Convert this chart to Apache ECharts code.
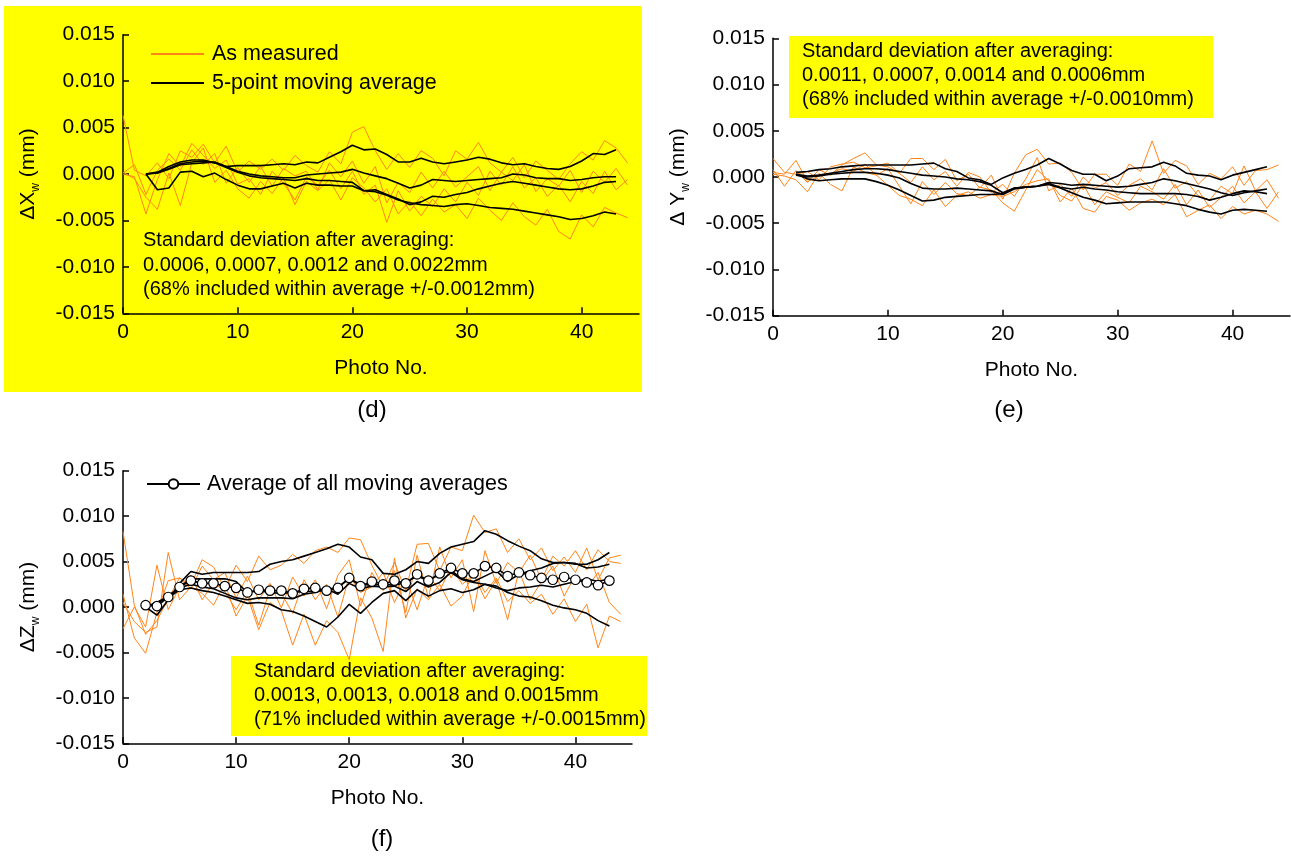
<!DOCTYPE html>
<html>
<head>
<meta charset="utf-8">
<script src="https://cdn.jsdelivr.net/npm/echarts@6/dist/echarts.min.js"></script>
<style>html,body{margin:0;padding:0;background:#fff;}#c{width:1291px;height:857px;}</style>
</head>
<body>
<div id="c"></div>
<script>
// ---------- tick values ----------
const xTicks = [0, 10, 20, 30, 40];
const measStart = 0;   // first photo no. of "as measured" series
const avgStart = 2;    // first photo no. of moving averages

// ---------- panel (d) ΔXw ----------
const dMeas1 = [0.0063,0.0004,-0.0002,0.0012,-0.0005,0.0025,0.0018,0.0032,0.0012,0.0030,
  0.0002,0.0014,0.0005,0.0016,0.0004,0.0020,0.0009,0.0002,0.0024,0.0011,
  0.0045,0.0051,0.0025,0.0005,0.0022,0.0007,0.0025,0.0017,-0.0002,0.0025,
  0.0016,0.0034,0.0012,0.0002,0.0018,-0.0004,0.0014,0.0004,-0.0006,0.0011,
  0.0024,0.0015,0.0036,0.0028,0.0012];
const dMeas2 = [0.0001,0.0010,-0.0022,0.0004,0.0016,0.0004,0.0026,0.0010,0.0022,-0.0010,
  0.0007,-0.0009,0.0008,-0.0013,0.0006,-0.0002,0.0003,-0.0017,0.0012,-0.0003,
  0.0014,-0.0010,0.0008,-0.0031,-0.0009,-0.0020,0.0002,-0.0015,0.0003,-0.0014,
  -0.0003,0.0008,-0.0018,0.0002,-0.0007,0.0010,-0.0019,-0.0005,-0.0013,0.0004,
  -0.0020,0.0003,-0.0009,0.0006,-0.0012];
const dMeas3 = [0.0000,-0.0003,-0.0043,-0.0006,0.0022,0.0008,0.0033,0.0020,0.0006,0.0015,
  -0.0011,-0.0005,-0.0022,0.0003,-0.0010,-0.0028,-0.0003,-0.0012,0.0004,-0.0016,
  0.0003,-0.0022,-0.0012,-0.0052,-0.0018,-0.0040,-0.0024,-0.0035,-0.0016,-0.0030,
  -0.0009,-0.0023,0.0003,-0.0012,0.0008,-0.0015,-0.0004,-0.0024,-0.0012,-0.0030,
  -0.0008,-0.0021,0.0003,-0.0017,-0.0006];
const dMeas4 = [0.0002,-0.0005,-0.0025,-0.0038,0.0001,-0.0034,0.0012,0.0028,-0.0009,0.0004,
  -0.0016,-0.0026,-0.0008,-0.0021,-0.0004,-0.0033,-0.0008,-0.0018,-0.0006,-0.0028,
  -0.0004,-0.0015,-0.0030,-0.0016,-0.0043,-0.0029,-0.0045,-0.0027,-0.0041,-0.0033,
  -0.0048,-0.0026,-0.0039,-0.0050,-0.0031,-0.0046,-0.0055,-0.0038,-0.0062,-0.0070,
  -0.0044,-0.0057,-0.0036,-0.0042,-0.0047];
const dMA1 = [0,0.0002,0.0008,0.0013,0.0015,0.0015,0.0012,0.0008,0.0009,0.0009,
  0.0009,0.0010,0.0011,0.0010,0.0013,0.0012,0.0018,0.0024,0.0031,0.0026,
  0.0027,0.0021,0.0013,0.0013,0.0017,0.0013,0.0011,0.0013,0.0015,0.0018,
  0.0016,0.0012,0.0010,0.0011,0.0008,0.0006,0.0005,0.0008,0.0014,0.0022,
  0.0021,0.0026];
const dMA2 = [0,0.0001,0.0005,0.0010,0.0011,0.0012,0.0013,0.0008,0.0003,0.0000,
  -0.0002,-0.0003,-0.0004,-0.0004,-0.0001,0.0000,0.0001,0.0002,0.0005,0.0001,
  -0.0002,-0.0005,-0.0010,-0.0015,-0.0012,-0.0006,-0.0007,-0.0008,-0.0007,-0.0006,
  -0.0005,-0.0004,0.0000,-0.0001,-0.0004,-0.0005,-0.0005,-0.0007,-0.0006,-0.0004,
  -0.0003,-0.0003];
const dMA3 = [0,0.0001,0.0006,0.0011,0.0013,0.0014,0.0012,0.0007,0.0002,-0.0002,
  -0.0004,-0.0005,-0.0006,-0.0007,-0.0005,-0.0007,-0.0007,-0.0008,-0.0009,-0.0018,
  -0.0017,-0.0022,-0.0027,-0.0033,-0.0030,-0.0024,-0.0025,-0.0022,-0.0020,-0.0016,
  -0.0013,-0.0010,-0.0008,-0.0010,-0.0012,-0.0014,-0.0016,-0.0017,-0.0016,-0.0013,
  -0.0009,-0.0008];
const dMA4 = [0,-0.0017,-0.0015,0.0002,0.0003,-0.0003,0.0001,-0.0006,-0.0012,-0.0016,
  -0.0016,-0.0013,-0.0010,-0.0015,-0.0010,-0.0012,-0.0012,-0.0013,-0.0013,-0.0018,
  -0.0019,-0.0023,-0.0028,-0.0031,-0.0033,-0.0034,-0.0035,-0.0033,-0.0032,-0.0034,
  -0.0036,-0.0037,-0.0038,-0.0040,-0.0042,-0.0044,-0.0046,-0.0049,-0.0048,-0.0045,
  -0.0041,-0.0043];

// ---------- panel (e) ΔYw ----------
const eMeas1 = [0.0020,0.0005,0.0003,0.0006,-0.0003,0.0011,0.0014,0.0016,0.0010,0.0012,
  0.0015,0.0004,0.0020,0.0020,0.0008,0.0019,-0.0004,0.0003,-0.0012,0.0002,
  -0.0024,0.0004,0.0024,0.0030,0.0014,0.0015,0.0005,-0.0014,0.0003,0.0003,
  -0.0009,0.0014,0.0006,0.0039,0.0004,0.0018,0.0012,-0.0008,0.0004,-0.0002,
  0.0011,-0.0009,0.0007,0.0008,0.0013];
const eMeas2 = [0.0008,-0.0010,0.0007,-0.0006,0.0008,0.0002,0.0013,0.0020,0.0026,0.0013,
  0.0011,0.0004,-0.0006,0.0011,-0.0003,0.0006,-0.0010,0.0005,0.0000,-0.0017,
  -0.0008,-0.0021,-0.0002,0.0021,-0.0015,-0.0008,-0.0021,0.0000,-0.0012,-0.0006,
  -0.0020,-0.0009,-0.0002,-0.0014,0.0009,-0.0012,-0.0005,-0.0020,-0.0025,-0.0010,
  -0.0018,0.0012,-0.0015,-0.0003,-0.0023];
const eMeas3 = [0.0005,0.0003,0.0018,-0.0005,0.0001,0.0004,0.0009,0.0006,0.0014,0.0002,
  0.0009,-0.0010,-0.0029,-0.0005,-0.0019,-0.0006,-0.0018,-0.0020,-0.0011,-0.0014,
  -0.0028,-0.0037,-0.0014,0.0008,-0.0004,-0.0020,-0.0026,-0.0008,-0.0030,-0.0016,
  -0.0022,-0.0028,-0.0010,-0.0016,-0.0024,-0.0008,-0.0030,-0.0014,-0.0033,-0.0022,
  -0.0010,-0.0028,-0.0016,-0.0034,-0.0016];
const eMeas4 = [0.0003,0.0001,-0.0003,-0.0016,0.0004,-0.0008,-0.0015,0.0011,0.0005,0.0002,
  -0.0009,-0.0020,-0.0024,-0.0031,-0.0014,-0.0032,-0.0020,-0.0016,-0.0023,-0.0019,
  -0.0021,-0.0016,-0.0008,-0.0004,-0.0002,-0.0027,-0.0012,-0.0034,-0.0038,-0.0021,
  -0.0025,-0.0036,-0.0028,-0.0024,-0.0030,-0.0019,-0.0043,-0.0036,-0.0030,-0.0045,
  -0.0032,-0.0040,-0.0036,-0.0040,-0.0048];
const eMA1 = [0.0005,0.0006,0.0008,0.0009,0.0011,0.0012,0.0013,0.0013,0.0013,0.0013,
  0.0013,0.0014,0.0015,0.0009,0.0006,-0.0001,-0.0003,-0.0008,-0.0001,0.0004,
  0.0008,0.0013,0.0020,0.0014,0.0007,0.0003,0.0003,-0.0004,0.0001,0.0009,
  0.0010,0.0011,0.0016,0.0012,0.0004,0.0002,0.0001,-0.0003,0.0002,0.0005,
  0.0008,0.0011];
const eMA2 = [0.0003,0.0001,0.0002,0.0004,0.0006,0.0008,0.0009,0.0009,0.0008,0.0006,
  0.0004,0.0002,0.0001,0.0000,-0.0002,-0.0003,-0.0005,-0.0009,-0.0017,-0.0012,
  -0.0011,-0.0010,-0.0006,-0.0007,-0.0009,-0.0008,-0.0009,-0.0010,-0.0011,-0.0010,
  -0.0008,-0.0006,-0.0002,-0.0004,-0.0007,-0.0010,-0.0013,-0.0017,-0.0020,-0.0017,
  -0.0015,-0.0013];
const eMA3 = [0.0002,0.0000,0.0001,0.0003,0.0004,0.0005,0.0005,0.0004,0.0002,-0.0001,
  -0.0007,-0.0012,-0.0013,-0.0013,-0.0012,-0.0013,-0.0014,-0.0015,-0.0019,-0.0013,
  -0.0011,-0.0010,-0.0007,-0.0011,-0.0013,-0.0011,-0.0013,-0.0014,-0.0016,-0.0017,
  -0.0018,-0.0018,-0.0018,-0.0018,-0.0019,-0.0021,-0.0025,-0.0022,-0.0018,-0.0015,
  -0.0016,-0.0018];
const eMA4 = [0.0003,-0.0002,-0.0004,-0.0003,-0.0002,-0.0002,-0.0002,-0.0005,-0.0009,-0.0014,
  -0.0020,-0.0026,-0.0025,-0.0022,-0.0021,-0.0020,-0.0019,-0.0019,-0.0018,-0.0012,
  -0.0011,-0.0010,-0.0008,-0.0012,-0.0017,-0.0022,-0.0025,-0.0029,-0.0028,-0.0027,
  -0.0027,-0.0027,-0.0027,-0.0029,-0.0031,-0.0035,-0.0038,-0.0040,-0.0036,-0.0035,
  -0.0036,-0.0037];

// ---------- panel (f) ΔZw ----------
const fMeas1 = [0.0083,0.0002,-0.0030,-0.0015,0.0009,0.0032,0.0024,0.0052,0.0044,0.0020,
  0.0046,0.0028,0.0056,0.0041,0.0046,0.0058,0.0048,0.0062,0.0066,0.0060,
  0.0076,0.0074,0.0046,0.0022,0.0049,0.0018,0.0069,0.0070,0.0040,0.0066,
  0.0062,0.0101,0.0082,0.0086,0.0060,0.0075,0.0052,0.0065,0.0040,0.0055,
  0.0038,0.0065,0.0030,0.0054,0.0057];
const fMeas2 = [0.0014,-0.0034,-0.0051,-0.0006,0.0029,0.0032,0.0020,0.0045,0.0030,0.0038,
  0.0010,0.0034,0.0008,0.0026,-0.0001,0.0033,0.0012,0.0030,-0.0002,0.0035,
  0.0052,0.0001,0.0038,0.0018,0.0040,-0.0006,0.0057,0.0010,0.0066,0.0032,
  0.0052,-0.0005,0.0062,0.0026,0.0049,0.0038,0.0057,0.0030,0.0056,0.0045,
  0.0062,0.0041,0.0063,0.0050,0.0048];
const fMeas3 = [-0.0024,0.0000,-0.0022,0.0046,-0.0003,0.0022,0.0035,0.0008,0.0027,0.0017,
  -0.0003,0.0018,-0.0020,0.0020,0.0015,-0.0007,0.0030,0.0008,0.0025,-0.0011,
  0.0034,0.0016,0.0022,0.0038,0.0005,0.0032,-0.0003,0.0035,0.0018,0.0044,
  0.0025,0.0036,0.0009,0.0030,-0.0014,0.0040,0.0008,0.0028,0.0045,0.0012,
  0.0035,0.0021,0.0038,0.0005,-0.0008];
const fMeas4 = [0.0005,-0.0016,-0.0028,-0.0022,0.0060,0.0008,0.0022,0.0015,0.0002,0.0026,
  -0.0010,0.0012,-0.0025,0.0005,-0.0004,-0.0042,-0.0008,-0.0042,-0.0015,-0.0028,
  -0.0058,0.0010,-0.0012,-0.0049,0.0054,-0.0012,0.0020,0.0008,0.0025,0.0001,
  0.0012,0.0038,0.0016,0.0032,0.0006,0.0018,0.0004,0.0014,-0.0008,0.0009,
  -0.0016,0.0003,-0.0045,-0.0010,-0.0016];
const fMA1 = [0,-0.0009,0.0008,0.0026,0.0039,0.0036,0.0038,0.0038,0.0038,0.0038,
  0.0039,0.0047,0.0050,0.0052,0.0056,0.0060,0.0064,0.0069,0.0066,0.0055,
  0.0052,0.0037,0.0036,0.0041,0.0050,0.0048,0.0059,0.0066,0.0069,0.0072,
  0.0084,0.0080,0.0073,0.0067,0.0062,0.0053,0.0049,0.0049,0.0048,0.0043,
  0.0044,0.0047];
const fMA2 = [0,0.0004,0.0012,0.0022,0.0031,0.0031,0.0031,0.0031,0.0028,0.0016,
  0.0018,0.0016,0.0015,0.0016,0.0017,0.0017,0.0019,0.0022,0.0031,0.0025,
  0.0024,0.0025,0.0024,0.0027,0.0034,0.0029,0.0036,0.0040,0.0031,0.0028,
  0.0034,0.0040,0.0028,0.0036,0.0040,0.0043,0.0048,0.0049,0.0047,0.0047,
  0.0052,0.0060];
const fMA3 = [0,0.0005,0.0012,0.0021,0.0025,0.0022,0.0020,0.0015,0.0010,0.0008,
  0.0010,0.0010,0.0010,0.0009,0.0014,0.0016,0.0020,0.0014,0.0026,0.0020,
  0.0023,0.0022,0.0023,0.0017,0.0028,0.0022,0.0027,0.0038,0.0030,0.0027,
  0.0025,0.0021,0.0018,0.0021,0.0022,0.0024,0.0022,0.0025,0.0028,0.0031,
  0.0028,0.0031];
const fMA4 = [0,0.0005,0.0010,0.0019,0.0021,0.0018,0.0016,0.0012,0.0008,0.0004,
  0.0005,0.0003,-0.0003,-0.0005,-0.0010,-0.0016,-0.0022,-0.0011,0.0003,-0.0007,
  0.0005,0.0015,0.0018,0.0007,0.0019,0.0012,0.0018,0.0020,0.0016,0.0019,
  0.0025,0.0023,0.0016,0.0012,0.0011,0.0007,0.0002,-0.0001,-0.0003,-0.0007,
  -0.0015,-0.0021];
const fAllAvg = [0.0002,0.0001,0.0011,0.0022,0.0029,0.0026,0.0026,0.0023,0.0021,0.0016,
  0.0019,0.0018,0.0018,0.0015,0.0020,0.0021,0.0018,0.0021,0.0032,0.0023,
  0.0028,0.0025,0.0029,0.0026,0.0036,0.0029,0.0037,0.0043,0.0037,0.0037,
  0.0045,0.0043,0.0034,0.0038,0.0035,0.0032,0.0030,0.0033,0.0030,0.0027,
  0.0024,0.0029];

// ---------- texts ----------
const yTitles = ['{t|ΔX}{s|w}{t| (mm)}', '{t|Δ Y}{s|w}{t| (mm)}', '{t|ΔZ}{s|w}{t| (mm)}'];
const xTitle = 'Photo No.';
const panelLabels = ['(d)', '(e)', '(f)'];
const noteD = ['Standard deviation after averaging:', '0.0006, 0.0007, 0.0012 and 0.0022mm', '(68% included within average +/-0.0012mm)'];
const noteE = ['Standard deviation after averaging:', '0.0011, 0.0007, 0.0014 and 0.0006mm', '(68% included within average +/-0.0010mm)'];
const noteF = ['Standard deviation after averaging:', '0.0013, 0.0013, 0.0018 and 0.0015mm', '(71% included within average +/-0.0015mm)'];

// ---------- build ----------
const FONT = '"Liberation Sans", Arial, sans-serif';
const ORANGE = '#ff8519';
const BLACK = '#000000';
const axisLineStyle = { color: '#000', width: 1.5 };

const grids = [
  { left: 123, top: 34.7, width: 516, height: 278.6 },
  { left: 773, top: 38.3, width: 517, height: 277.4 },
  { left: 123, top: 470.7, width: 509, height: 272.6 }
];

const xAxes = grids.map((g, gi) => ({
  gridIndex: gi, type: 'value', min: 0, max: 45, interval: 10,
  name: xTitle, nameLocation: 'middle', nameGap: 44,
  nameTextStyle: { fontSize: 21, fontFamily: FONT, color: '#000' },
  axisLine: { onZero: false, lineStyle: axisLineStyle },
  axisTick: { inside: true, length: 6, lineStyle: axisLineStyle, customValues: xTicks },
  axisLabel: { customValues: xTicks, fontSize: 21, fontFamily: FONT, color: '#000', margin: 8 },
  splitLine: { show: false }
}));

const yAxes = grids.map((g, gi) => ({
  gridIndex: gi, type: 'value', min: -0.015, max: 0.015, interval: 0.005,
  name: yTitles[gi], nameLocation: 'middle', nameGap: 83, nameRotate: 90,
  nameTextStyle: {
    rich: {
      t: { fontSize: 21, fontFamily: FONT, color: '#000', lineHeight: 22, verticalAlign: 'top' },
      s: { fontSize: 12, fontFamily: FONT, color: '#000', lineHeight: 12, verticalAlign: 'top', padding: [12, 0, 0, 0] }
    }
  },
  axisLine: { lineStyle: axisLineStyle },
  axisTick: { inside: true, length: 6, lineStyle: axisLineStyle },
  axisLabel: {
    fontSize: 21, fontFamily: FONT, color: '#000', margin: 8,
    formatter: v => (Math.abs(v) < 1e-9 ? '0.000' : v.toFixed(3))
  },
  splitLine: { show: false }
}));

function line(name, arr, start, gi, color, width, z) {
  return {
    type: 'line', name, xAxisIndex: gi, yAxisIndex: gi,
    data: arr.map((v, i) => [start + i, v]),
    symbol: 'none', showSymbol: false, z,
    lineStyle: { color, width }, itemStyle: { color },
    silent: true, animation: false
  };
}

const series = [];
const meas = [[dMeas1, dMeas2, dMeas3, dMeas4], [eMeas1, eMeas2, eMeas3, eMeas4], [fMeas1, fMeas2, fMeas3, fMeas4]];
const mas = [[dMA1, dMA2, dMA3, dMA4], [eMA1, eMA2, eMA3, eMA4], [fMA1, fMA2, fMA3, fMA4]];
const measNames = ['As measured', 'As measured (e)', 'As measured (f)'];
const maNames = ['5-point moving average', '5-point moving average (e)', '5-point moving average (f)'];
meas.forEach((set, gi) => set.forEach(a => series.push(line(measNames[gi], a, measStart, gi, ORANGE, 1, 2))));
mas.forEach((set, gi) => set.forEach(a => series.push(line(maNames[gi], a, avgStart, gi, BLACK, 1.6, 3))));
series.push({
  type: 'line', name: 'Average of all moving averages', xAxisIndex: 2, yAxisIndex: 2,
  data: fAllAvg.map((v, i) => [avgStart + i, v]),
  symbol: 'circle', symbolSize: 9.5, showSymbol: true, z: 4,
  lineStyle: { color: BLACK, width: 1.6 },
  itemStyle: { color: '#fff', borderColor: '#000', borderWidth: 1.2 },
  silent: true, animation: false
});

function textEl(str, x, y, size, align) {
  return {
    type: 'text', z: 50,
    style: { text: str, x, y, fill: '#000', font: size + 'px ' + FONT,
      textAlign: align || 'left', textVerticalAlign: 'middle', align: align || 'left', verticalAlign: 'middle' }
  };
}

const graphic = [
  { type: 'rect', z: -100, shape: { x: 4, y: 6, width: 638, height: 386 }, style: { fill: '#ffff00' } },
  { type: 'rect', z: -100, shape: { x: 789, y: 36, width: 424, height: 82 }, style: { fill: '#ffff00' } },
  { type: 'rect', z: -100, shape: { x: 231, y: 656, width: 416, height: 80 }, style: { fill: '#ffff00' } },
  textEl(noteD[0], 143, 240, 20), textEl(noteD[1], 143, 265, 20), textEl(noteD[2], 143, 289, 20),
  textEl(noteE[0], 802, 51, 20), textEl(noteE[1], 802, 75, 20), textEl(noteE[2], 802, 99, 20),
  textEl(noteF[0], 254, 671, 20), textEl(noteF[1], 254, 695, 20), textEl(noteF[2], 254, 719, 20),
  textEl(panelLabels[0], 372, 410, 24, 'center'),
  textEl(panelLabels[1], 1009, 410, 24, 'center'),
  textEl(panelLabels[2], 382, 839, 24, 'center')
];

const option = {
  backgroundColor: '#ffffff',
  animation: false,
  grid: grids,
  xAxis: xAxes,
  yAxis: yAxes,
  legend: [
    {
      data: ['As measured', '5-point moving average'], orient: 'vertical',
      left: 150, top: 43, padding: 0, itemWidth: 53, itemHeight: 14, itemGap: 7,
      selectedMode: false,
      itemStyle: { opacity: 0 },
      textStyle: { fontSize: 21.5, fontFamily: FONT, color: '#000', lineHeight: 20, padding: [0, 0, 0, 3] }
    },
    {
      data: ['Average of all moving averages'], orient: 'vertical',
      left: 146, top: 473, padding: 0, itemWidth: 53, itemHeight: 12,
      selectedMode: false,
      textStyle: { fontSize: 21.5, fontFamily: FONT, color: '#000', lineHeight: 20, padding: [0, 0, 0, 2] }
    }
  ],
  graphic,
  series
};

const chart = echarts.init(document.getElementById('c'), null, { renderer: 'canvas' });
chart.setOption(option);
</script>
</body>
</html>
